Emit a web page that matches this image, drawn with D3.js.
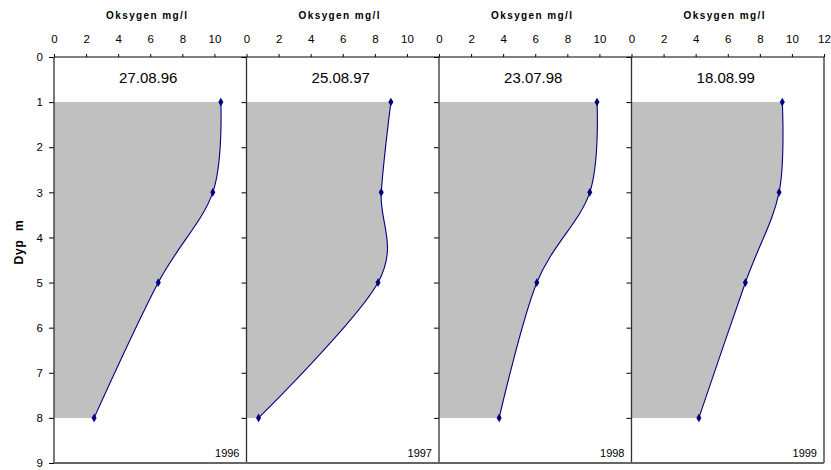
<!DOCTYPE html>
<html>
<head>
<meta charset="utf-8">
<script src="https://cdn.jsdelivr.net/npm/d3@7/dist/d3.min.js"></script>
<style>
  html, body { margin: 0; padding: 0; background: #fff; }
  svg { display: block; font-family: "Liberation Sans", Arial, sans-serif; }
</style>
</head>
<body>
<svg id="chart" width="831" height="470"></svg>
<script>
// ---- data ----
const dates = ["27.08.96", "25.08.97", "23.07.98", "18.08.99"];
const years = ["1996", "1997", "1998", "1999"];
const depths = [1, 3, 5, 8];
const oxy1996 = [10.4, 9.9, 6.5, 2.5];
const oxy1997 = [9.0, 8.4, 8.2, 0.75];
const oxy1998 = [9.85, 9.4, 6.1, 3.75];
const oxy1999 = [9.4, 9.2, 7.1, 4.2];
const series = [oxy1996, oxy1997, oxy1998, oxy1999];
const xTicksInner = [0, 2, 4, 6, 8, 10];
const xTicksLast = [0, 2, 4, 6, 8, 10, 12];
const yTicks = [0, 1, 2, 3, 4, 5, 6, 7, 8, 9];
const xTitle = "Oksygen mg/l";
const yTitle = "Dyp\u00a0 m";

// ---- layout ----
const svg = d3.select("#chart");
const plotLeft = 54, panelW = 192.5, plotTop = 57, plotBottom = 463;
const y = d3.scaleLinear().domain([0, 9]).range([plotTop, plotBottom]);

// y axis labels on the first panel
const yAxis = d3.axisLeft(y).tickValues(yTicks).tickSize(5).tickPadding(6).tickFormat(d3.format("d"));
const ya = svg.append("g").attr("transform", `translate(${plotLeft},0)`).call(yAxis);
ya.select(".domain").remove();
ya.selectAll("text").attr("font-size", "11.5px").attr("fill", "#000").attr("font-family", "Liberation Sans, Arial, sans-serif");
ya.selectAll("line").attr("stroke", "#000");

svg.append("text")
  .attr("transform", `translate(23,242) rotate(-90)`)
  .attr("text-anchor", "middle")
  .attr("font-size", "12px").attr("font-weight", "bold")
  .attr("letter-spacing", "0.8px")
  .text(yTitle);

const curve = d3.curveCardinal.tension(0);

series.forEach((vals, i) => {
  const x0 = plotLeft + i * panelW, x1 = x0 + panelW;
  const x = d3.scaleLinear().domain([0, 12]).range([x0, x1]);
  const pts = depths.map((d, k) => ({ d, v: vals[k] }));
  const g = svg.append("g");

  // filled area
  const area = d3.area().curve(curve)
    .y(p => y(p.d)).x0(x(0)).x1(p => x(p.v));
  g.append("path").datum(pts).attr("d", area).attr("fill", "#c0c0c0");

  // top axis
  const xAxis = d3.axisTop(x).tickValues(i === 3 ? xTicksLast : xTicksInner)
    .tickSize(3).tickPadding(11).tickFormat(d3.format("d"));
  const xa = g.append("g").attr("transform", `translate(0,${plotTop})`).call(xAxis);
  xa.select(".domain").remove();
  xa.selectAll("text").attr("font-size", "11.5px").attr("fill", "#000").attr("font-family", "Liberation Sans, Arial, sans-serif");
  xa.selectAll("line").attr("stroke", "#000");

  // left ticks for inner panels
  if (i > 0) {
    const la = g.append("g").attr("transform", `translate(${x0},0)`)
      .call(d3.axisLeft(y).tickValues(yTicks).tickSize(5).tickFormat(""));
    la.select(".domain").remove();
    la.selectAll("line").attr("stroke", "#000");
  }

  // frame lines
  g.append("line").attr("x1", x0).attr("x2", x1).attr("y1", plotTop).attr("y2", plotTop)
    .attr("stroke", "#000").attr("stroke-width", 1);
  g.append("line").attr("x1", x0).attr("x2", x0).attr("y1", plotTop).attr("y2", plotBottom)
    .attr("stroke", "#303030").attr("stroke-width", 1.3);
  if (i === 3) {
    g.append("line").attr("x1", x1).attr("x2", x1).attr("y1", plotTop).attr("y2", plotBottom)
      .attr("stroke", "#303030").attr("stroke-width", 1.3);
  }

  // line
  const line = d3.line().curve(curve).x(p => x(p.v)).y(p => y(p.d));
  g.append("path").datum(pts).attr("d", line)
    .attr("fill", "none").attr("stroke", "#000080").attr("stroke-width", 1.1);

  // markers
  g.selectAll(".m").data(pts).enter().append("path")
    .attr("transform", p => `translate(${x(p.v)},${y(p.d)})`)
    .attr("d", d3.symbol().type(d3.symbolDiamond).size(22))
    .attr("fill", "#000080");

  // axis title
  g.append("text").attr("x", (x0 + x1) / 2 - 3).attr("y", 19)
    .attr("text-anchor", "middle").attr("font-size", "10px").attr("font-weight", "bold")
    .attr("letter-spacing", "1.4px")
    .text(xTitle);

  // date label
  g.append("text").attr("x", (x0 + x1) / 2 - 2).attr("y", 82.5)
    .attr("text-anchor", "middle").attr("font-size", "15px")
    .text(dates[i]);

  // year label
  g.append("text").attr("x", x1 - 7).attr("y", 456.5)
    .attr("text-anchor", "end").attr("font-size", "11px")
    .text(years[i]);
});

// bottom line
svg.append("line").attr("x1", plotLeft).attr("x2", plotLeft + 4 * panelW)
  .attr("y1", plotBottom).attr("y2", plotBottom)
  .attr("stroke", "#666").attr("stroke-width", 2);
</script>
</body>
</html>
